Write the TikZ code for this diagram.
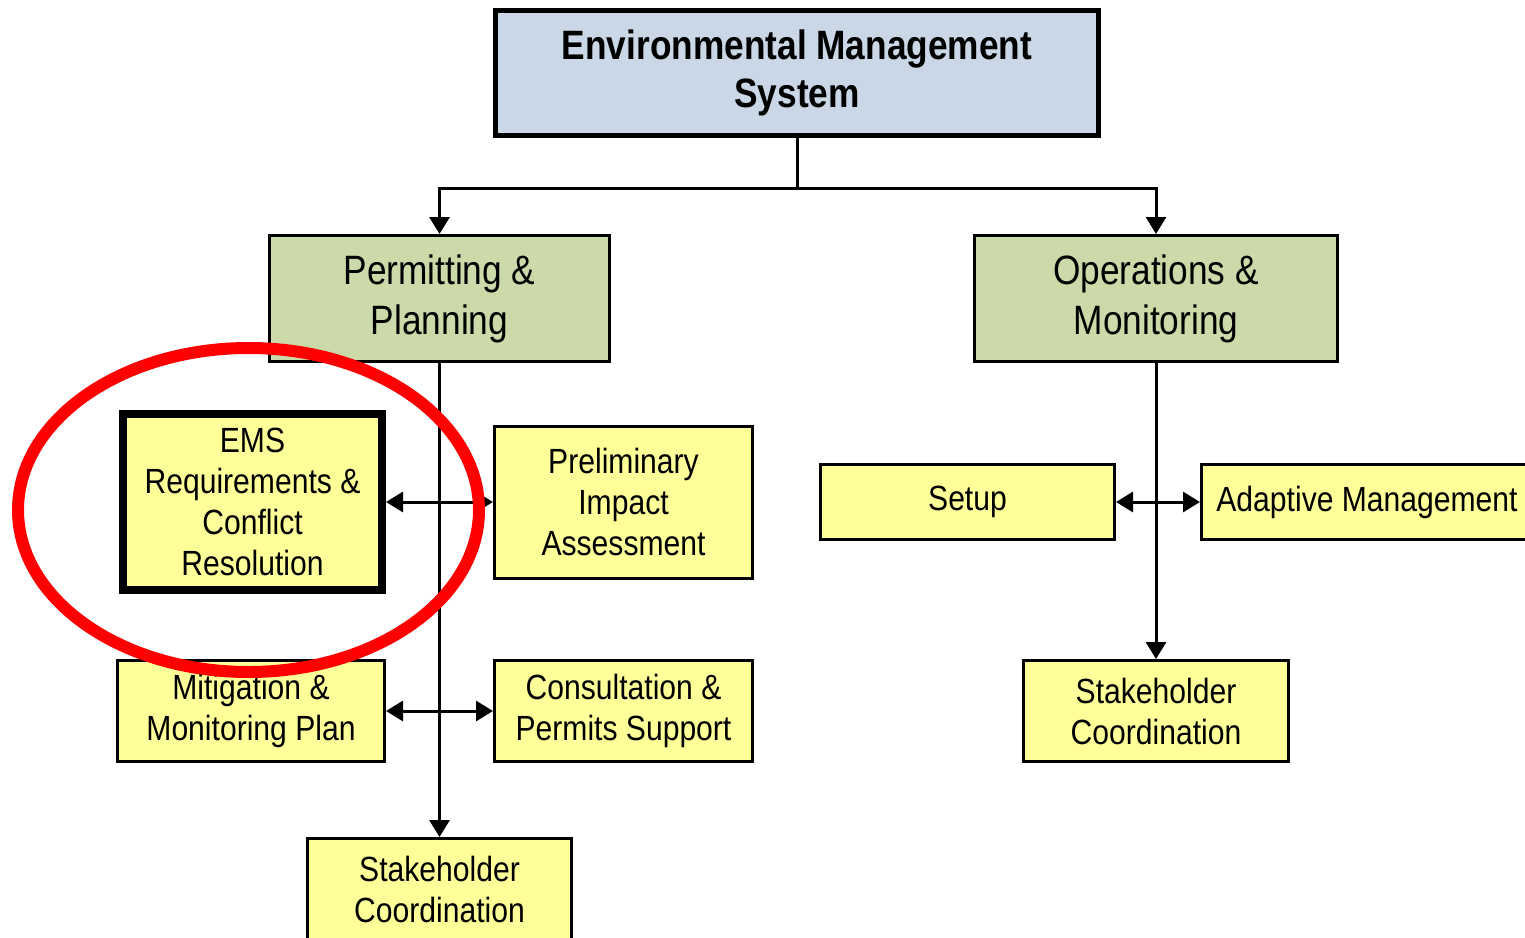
\documentclass[tikz,border=0pt]{standalone}
\usepackage{fontspec}
\setmainfont{Liberation Sans}[FakeStretch=0.86]
\usetikzlibrary{arrows.meta}
\definecolor{topblue}{HTML}{C9D7E6}
\definecolor{boxgreen}{HTML}{CCDAAA}
\definecolor{boxyellow}{HTML}{FFFF99}
\definecolor{ringred}{HTML}{FF0000}
\tikzset{
  box/.style={draw=black, rectangle, inner sep=0pt, align=center},
  topbox/.style={box, fill=topblue, line width=5pt, font=\fontsize{41}{48}\selectfont\bfseries},
  greenbox/.style={box, fill=boxgreen, line width=3pt, font=\fontsize{41}{50}\selectfont},
  yellowbox/.style={box, fill=boxyellow, line width=3pt, font=\fontsize{35}{41}\selectfont},
  emsbox/.style={yellowbox, line width=8pt},
  conn/.style={draw=black, line width=3pt},
  tip/.tip={Triangle[length=17pt,width=20pt]},
}
\begin{document}
\begin{tikzpicture}[x=1pt,y=-1pt]
\clip (0,0) rectangle (1525,937);
\fill[white] (0,0) rectangle (1525,937);
\node[topbox, minimum width=603pt, minimum height=125pt] (top) at (797,73) {Environmental Management\\System};
\node[greenbox, minimum width=340pt, minimum height=126pt] (perm) at (439.5,298.5) {Permitting \&\\Planning};
\node[greenbox, minimum width=363pt, minimum height=126pt] (ops) at (1156,298.5) {Operations \&\\Monitoring};
\node[emsbox, minimum width=259pt, minimum height=176pt] (ems) at (252.5,502) {EMS\\Requirements \&\\Conflict\\Resolution};
\node[yellowbox, minimum width=258pt, minimum height=152pt] (prelim) at (623.5,502) {Preliminary\\Impact\\Assessment};
\node[yellowbox, minimum width=267pt, minimum height=101pt] (mitig) at (251,711) {Mitigation \&\\Monitoring Plan};
\node[yellowbox, minimum width=258pt, minimum height=101pt] (consult) at (623.5,711) {Consultation \&\\Permits Support};
\node[yellowbox, minimum width=264pt, minimum height=101pt] (stk1) at (439.5,889) {Stakeholder\\Coordination};
\node[yellowbox, minimum width=294pt, minimum height=75pt] (setup) at (967.5,502) {Setup};
\node[yellowbox, minimum width=331pt, minimum height=75pt] (adapt) at (1367,502) {Adaptive Management};
\node[yellowbox, minimum width=265pt, minimum height=101pt] (stk2) at (1156,711) {Stakeholder\\Coordination};
\coordinate (j1) at (797,188);
\draw[conn] (top.south) -- (j1);
\draw[conn,-tip] (j1) -| (perm.north);
\draw[conn,-tip] (j1) -| (ops.north);
\draw[conn,-tip] (perm.south) -- (stk1.north);
\draw[conn,tip-tip] (ems.east) -- (prelim.west);
\draw[conn,tip-tip] (mitig.east) -- (consult.west);
\draw[conn,-tip] (ops.south) -- (stk2.north);
\draw[conn,tip-tip] (setup.east) -- (adapt.west);
\draw[ringred, line width=12pt] (248.5,510) ellipse [x radius=230.5, y radius=162];
\end{tikzpicture}
\end{document}
